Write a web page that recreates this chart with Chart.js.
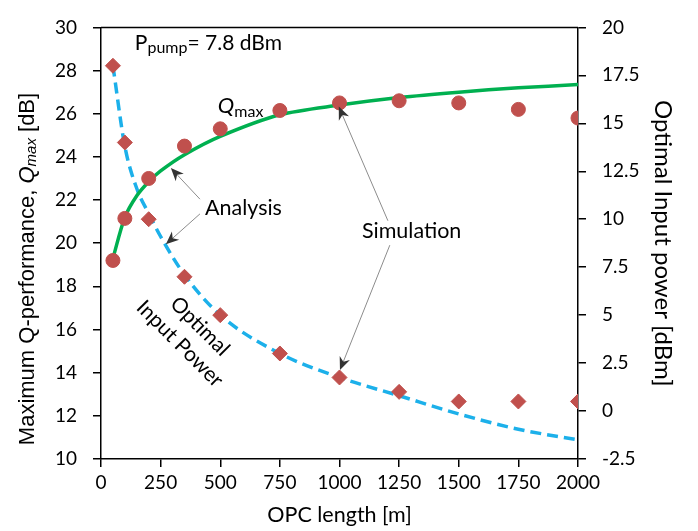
<!DOCTYPE html>
<html>
<head>
<meta charset="utf-8">
<script src="https://cdn.jsdelivr.net/npm/chart.js@4.4.1/dist/chart.umd.min.js"></script>
<style>
  html, body { margin: 0; padding: 0; background: #fff; }
  #wrap { width: 698px; height: 531px; }
</style>
</head>
<body>
<div id="wrap"><canvas id="chart"></canvas></div>
<script>
// ── Data ───────────────────────────────────────────
// simulation points (markers)
const simLength = [50, 100, 200, 350, 500, 750, 1000, 1250, 1500, 1750, 2000];
const simQmax   = [19.2, 21.15, 23.0, 24.5, 25.3, 26.15, 26.5, 26.6, 26.5, 26.2, 25.8];
const simPower  = [18.0, 14.0, 10.0, 7.0, 5.0, 3.0, 1.75, 1.0, 0.5, 0.5, 0.5];

// analysis curves (lines)
const anaLength = [50, 100, 150, 200, 250, 350, 500, 750, 1000, 1250, 1500, 1750, 2000];
const anaQmax   = [19.3, 21.2, 22.2, 22.85, 23.35, 24.1, 24.95, 25.95, 26.4, 26.75, 27.0, 27.2, 27.35];
const anaPower  = [18.0, 13.8, 11.6, 10.3, 9.1, 7.1, 5.0, 3.0, 1.75, 0.8, -0.15, -0.95, -1.5];

// axes
const xTicks = { min: 0, max: 2000, step: 250 };
const qTicks = { min: 10, max: 30, step: 2 };
const pTicks = { min: -2.5, max: 20, step: 2.5 };

// ── Styles ─────────────────────────────────────────
const GREEN = '#00b050';
const BLUE = '#1cb0ea';
const RED = '#c0504d';
const TXT = 'Lato, "Open Sans", sans-serif';

const pairs = (xs, ys) => xs.map((x, i) => ({ x, y: ys[i] }));

// ── Annotation plugin (labels + arrows, in data units) ──
function drawArrow(ctx, x1, y1, x2, y2) {
  const ang = Math.atan2(y2 - y1, x2 - x1);
  const len = 13, half = 5.5;
  const bx = x2 - Math.cos(ang) * len, by = y2 - Math.sin(ang) * len;
  ctx.save();
  ctx.strokeStyle = '#8c8c8c';
  ctx.lineWidth = 1;
  ctx.beginPath();
  ctx.moveTo(x1, y1);
  ctx.lineTo(x2 - Math.cos(ang) * 7, y2 - Math.sin(ang) * 7);
  ctx.stroke();
  ctx.fillStyle = '#333';
  ctx.beginPath();
  ctx.moveTo(x2, y2);
  ctx.lineTo(bx - Math.sin(ang) * half, by + Math.cos(ang) * half);
  ctx.lineTo(x2 - Math.cos(ang) * len * 0.7, y2 - Math.sin(ang) * len * 0.7);
  ctx.lineTo(bx + Math.sin(ang) * half, by - Math.cos(ang) * half);
  ctx.closePath();
  ctx.fill();
  ctx.restore();
}

function drawRich(ctx, pieces, x, y, center) {
  let total = 0;
  pieces.forEach(p => { ctx.font = p.font; total += ctx.measureText(p.text).width; });
  let cx = center ? x - total / 2 : x;
  pieces.forEach(p => {
    ctx.font = p.font;
    ctx.fillText(p.text, cx, y + (p.dy || 0));
    cx += ctx.measureText(p.text).width;
  });
}

const annotations = {
  id: 'annotations',
  afterDatasetsDraw(chart) {
    const { ctx, chartArea: a, scales: { x, y } } = chart;
    const px = v => x.getPixelForValue(v);
    const py = v => y.getPixelForValue(v);

    ctx.save();
    // top frame line
    ctx.strokeStyle = '#000';
    ctx.lineWidth = 1.5;
    ctx.beginPath();
    ctx.moveTo(a.left, a.top);
    ctx.lineTo(a.right, a.top);
    ctx.stroke();

    ctx.fillStyle = '#000';
    ctx.textAlign = 'left';
    ctx.textBaseline = 'alphabetic';

    drawRich(ctx, [
      { text: 'P', font: `21px ${TXT}` },
      { text: 'pump', font: `16px ${TXT}`, dy: 3 },
      { text: '= 7.8 dBm', font: `21px ${TXT}` },
    ], px(142), py(28.96));

    drawRich(ctx, [
      { text: 'Q', font: `italic 22px ${TXT}` },
      { text: 'max', font: `16px ${TXT}`, dy: 4 },
    ], px(490), py(26.02));

    ctx.font = `21.5px ${TXT}`;
    ctx.fillText('Analysis', px(436), py(21.31));
    ctx.fillText('Simulation', px(1094), py(20.23));

    drawArrow(ctx, px(415), py(22.04), px(293), py(23.48));
    drawArrow(ctx, px(415), py(21.36), px(272), py(19.95));
    drawArrow(ctx, px(1203), py(21.04), px(997), py(26.33));
    drawArrow(ctx, px(1211), py(19.91), px(1002), py(14.12));

    // rotated curve label
    ctx.font = `21px ${TXT}`;
    ctx.textAlign = 'center';
    ctx.textBaseline = 'middle';
    [['Optimal', 415, 16.15], ['Input Power', 331, 15.34]].forEach(([t, vx, vy]) => {
      ctx.save();
      ctx.translate(px(vx), py(vy));
      ctx.rotate(Math.PI / 4);
      ctx.fillText(t, 0, 0);
      ctx.restore();
    });

    // left axis title with italic Q_max
    ctx.save();
    ctx.translate(28, 269);
    ctx.rotate(-Math.PI / 2);
    ctx.textAlign = 'left';
    ctx.textBaseline = 'middle';
    const AR = '"Liberation Sans", Arial, sans-serif';
    drawRich(ctx, [
      { text: 'Maximum Q-performance, ', font: `22px ${AR}` },
      { text: 'Q', font: `italic 22px ${AR}` },
      { text: 'max', font: `italic 15px ${AR}`, dy: 4 },
      { text: ' [dB]', font: `22px ${AR}` },
    ], 0, 0, true);
    ctx.restore();

    ctx.restore();
  }
};

// ── Axis helper ────────────────────────────────────
function axisBase(t) {
  return {
    type: 'linear',
    min: t.min,
    max: t.max,
    ticks: {
      stepSize: t.step,
      color: '#000',
      font: { family: TXT, size: 19 },
      padding: 16,
      autoSkip: false,
      maxRotation: 0,
      callback: v => String(v),
    },
    grid: { drawOnChartArea: false, tickLength: 8, color: '#000', lineWidth: 1.5 },
    border: { color: '#000', width: 1.5 },
  };
}

const xAxis = axisBase(xTicks);
xAxis.position = 'bottom';
xAxis.ticks.padding = 4;
xAxis.title = { display: true, text: 'OPC length [m]', color: '#000',
  font: { family: TXT, size: 21.5 }, padding: { top: 0, bottom: 3 } };
xAxis.afterFit = s => { s.height = 72; };

const yAxis = axisBase(qTicks);
yAxis.position = 'left';
yAxis.afterFit = s => { s.width = 101; };

const y1Axis = axisBase(pTicks);
y1Axis.position = 'right';
y1Axis.title = { display: true, text: 'Optimal Input power [dBm]', color: '#000',
  font: { family: TXT, size: 24 }, padding: { top: 21, bottom: 0 } };
y1Axis.afterFit = s => { s.width = 120; };

// ── Chart ──────────────────────────────────────────
new Chart(document.getElementById('chart'), {
  type: 'line',
  data: {
    datasets: [
      {
        label: 'Simulation Qmax',
        data: pairs(simLength, simQmax),
        yAxisID: 'y',
        showLine: false,
        pointStyle: 'circle',
        pointRadius: 7,
        pointBackgroundColor: RED,
        pointBorderColor: RED,
        order: 1,
      },
      {
        label: 'Simulation power',
        data: pairs(simLength, simPower),
        yAxisID: 'y1',
        showLine: false,
        pointStyle: 'rectRot',
        pointRadius: 7.5,
        pointBackgroundColor: RED,
        pointBorderColor: RED,
        order: 2,
      },
      {
        label: 'Analysis Qmax',
        data: pairs(anaLength, anaQmax),
        yAxisID: 'y',
        borderColor: GREEN,
        borderWidth: 3.5,
        pointRadius: 0,
        tension: 0.3,
        order: 3,
      },
      {
        label: 'Analysis power',
        data: pairs(anaLength, anaPower),
        yAxisID: 'y1',
        borderColor: BLUE,
        borderWidth: 3.5,
        borderDash: [11, 6],
        pointRadius: 0,
        cubicInterpolationMode: 'monotone',
        order: 4,
      },
    ],
  },
  options: {
    responsive: true,
    maintainAspectRatio: false,
    animation: false,
    layout: { padding: { top: 17, left: 0, right: 0, bottom: 0 } },
    plugins: { legend: { display: false }, tooltip: { enabled: false } },
    scales: { x: xAxis, y: yAxis, y1: y1Axis },
  },
  plugins: [annotations],
});
</script>
</body>
</html>
